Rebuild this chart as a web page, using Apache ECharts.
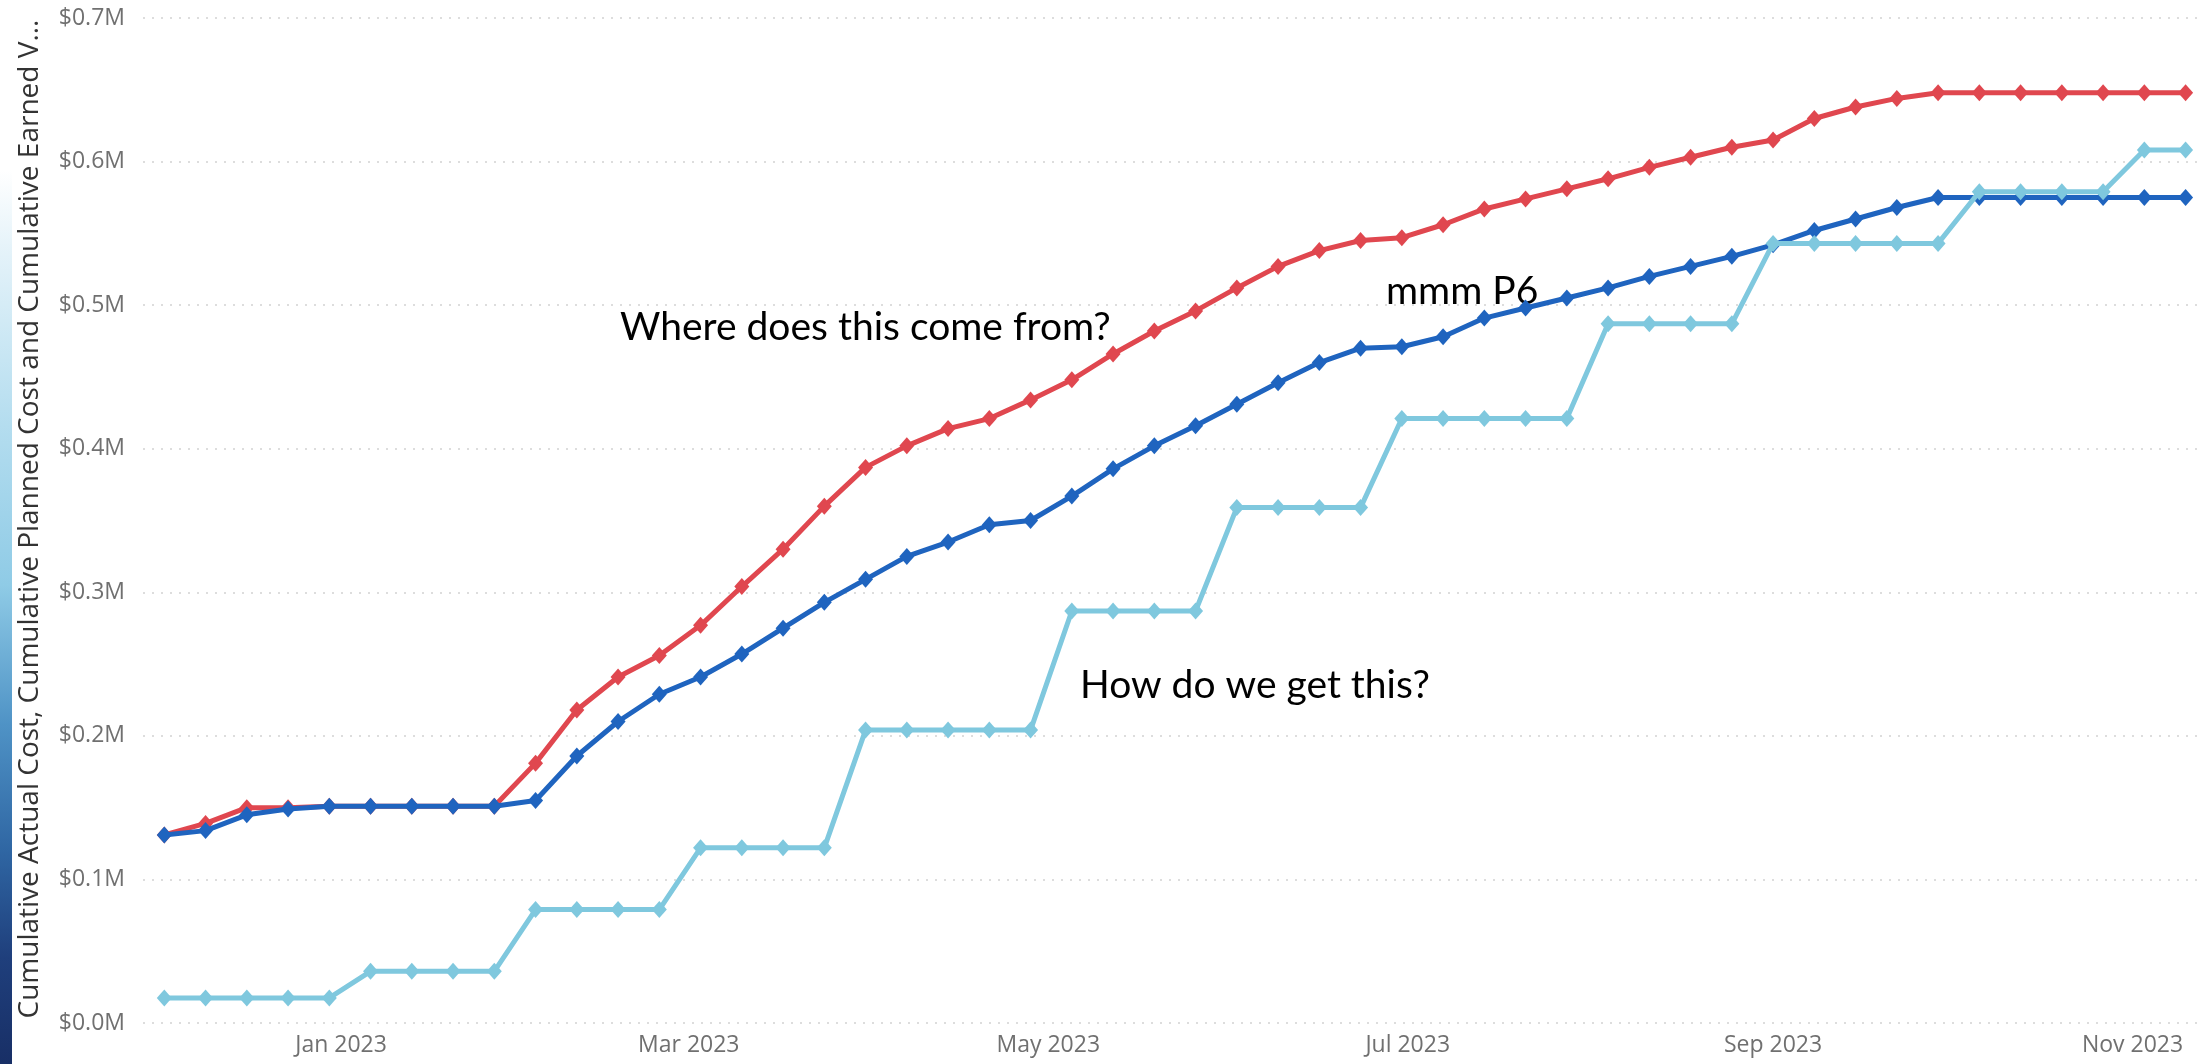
<!DOCTYPE html>
<html>
<head>
<meta charset="utf-8">
<script src="https://cdn.jsdelivr.net/npm/echarts@6/dist/echarts.min.js"></script>
<style>
  html, body { margin: 0; padding: 0; background: #ffffff; overflow: hidden; }
  #strip { position: absolute; left: 0; top: 0; width: 12px; height: 1064px;
    background: linear-gradient(to bottom, #ffffff 0%, #ffffff 16%, #e3f2f9 24%, #b4ddef 40%, #8fcbe6 55%, #4f93c6 68%, #2f66a3 80%, #1f3f7c 90%, #182f66 100%); }
  #chart { position: absolute; left: 0; top: 0; width: 2201px; height: 1064px; }
</style>
</head>
<body>
<div id="strip"></div>
<div id="chart"></div>
<script>
// Weekly reporting dates
const weekDates = [
  '2022-12-02','2022-12-09','2022-12-16','2022-12-23','2022-12-30',
  '2023-01-06','2023-01-13','2023-01-20','2023-01-27',
  '2023-02-03','2023-02-10','2023-02-17','2023-02-24',
  '2023-03-03','2023-03-10','2023-03-17','2023-03-24','2023-03-31',
  '2023-04-07','2023-04-14','2023-04-21','2023-04-28',
  '2023-05-05','2023-05-12','2023-05-19','2023-05-26',
  '2023-06-02','2023-06-09','2023-06-16','2023-06-23','2023-06-30',
  '2023-07-07','2023-07-14','2023-07-21','2023-07-28',
  '2023-08-04','2023-08-11','2023-08-18','2023-08-25',
  '2023-09-01','2023-09-08','2023-09-15','2023-09-22','2023-09-29',
  '2023-10-06','2023-10-13','2023-10-20','2023-10-27',
  '2023-11-03','2023-11-10'
];

// Values in $ millions
const actualCostM = [
  0.131,0.139,0.150,0.150,0.151,0.151,0.151,0.151,0.151,0.181,
  0.218,0.241,0.256,0.277,0.304,0.330,0.360,0.387,0.402,0.414,
  0.421,0.434,0.448,0.466,0.482,0.496,0.512,0.527,0.538,0.545,
  0.547,0.556,0.567,0.574,0.581,0.588,0.596,0.603,0.610,0.615,
  0.630,0.638,0.644,0.648,0.648,0.648,0.648,0.648,0.648,0.648
];
const plannedCostM = [
  0.131,0.134,0.145,0.149,0.151,0.151,0.151,0.151,0.151,0.155,
  0.186,0.210,0.229,0.241,0.257,0.275,0.293,0.309,0.325,0.335,
  0.347,0.350,0.367,0.386,0.402,0.416,0.431,0.446,0.460,0.470,
  0.471,0.478,0.491,0.498,0.505,0.512,0.520,0.527,0.534,0.542,
  0.552,0.560,0.568,0.575,0.575,0.575,0.575,0.575,0.575,0.575
];
const earnedValueM = [
  0.0175,0.0175,0.0175,0.0175,0.0175,
  0.036,0.036,0.036,0.036,
  0.079,0.079,0.079,0.079,
  0.122,0.122,0.122,0.122,
  0.204,0.204,0.204,0.204,0.204,
  0.287,0.287,0.287,0.287,
  0.359,0.359,0.359,0.359,
  0.421,0.421,0.421,0.421,0.421,
  0.487,0.487,0.487,0.487,
  0.543,0.543,0.543,0.543,0.543,
  0.579,0.579,0.579,0.579,
  0.608,0.608
];

const xTickDates = ['2023-01-01','2023-03-01','2023-05-01','2023-07-01','2023-09-01','2023-11-01'];
const xTickLabels = ['Jan 2023','Mar 2023','May 2023','Jul 2023','Sep 2023','Nov 2023'];
const yTickValuesM = [0, 0.1, 0.2, 0.3, 0.4, 0.5, 0.6, 0.7];

const seriesNames = ['Cumulative Actual Cost', 'Cumulative Planned Cost', 'Cumulative Earned Value'];
const yAxisTitle = 'Cumulative Actual Cost, Cumulative Planned Cost and Cumulative Earned V...';
const notes = ['Where does this come from?', 'mmm P6', 'How do we get this?'];

function parseLocal(s) {
  const p = s.split('-').map(Number);
  return new Date(p[0], p[1] - 1, p[2]).getTime();
}
const weekTimes = weekDates.map(parseLocal);
const xTickTimes = xTickDates.map(parseLocal);

const chart = echarts.init(document.getElementById('chart'), null, { renderer: 'canvas' });

function mk(name, vals, color, z) {
  return {
    name: name,
    type: 'line',
    data: weekTimes.map((t, i) => [t, vals[i]]),
    symbol: 'diamond',
    symbolSize: [15, 17],
    showSymbol: true,
    z: z,
    lineStyle: { color: color, width: 5 },
    itemStyle: { color: color },
    emphasis: { disabled: true },
    animation: false
  };
}

const option = {
  animation: false,
  backgroundColor: 'transparent',
  grid: { left: 143, right: 0, top: 18, bottom: 41, outerBoundsMode: 'none', containLabel: false },
  xAxis: {
    type: 'value',
    min: new Date(2022, 10, 28, 9, 15).getTime(),
    max: new Date(2023, 10, 12, 14, 45).getTime(),
    axisLine: { show: false },
    axisTick: { show: false },
    splitLine: { show: false },
    axisLabel: {
      customValues: xTickTimes,
      color: '#707070',
      fontFamily: 'Open Sans',
      fontSize: 23,
      margin: 11,
      formatter: function (v) {
        const idx = xTickTimes.indexOf(+v);
        return idx >= 0 ? xTickLabels[idx] : '';
      }
    }
  },
  yAxis: {
    type: 'value',
    min: 0,
    max: 0.7,
    interval: 0.1,
    axisLine: { show: false },
    axisTick: { show: false },
    splitLine: { show: true, lineStyle: { color: '#d2d2d2', width: 1.5, type: [2, 7] } },
    axisLabel: {
      color: '#707070',
      fontFamily: 'Open Sans',
      fontSize: 23,
      margin: 18,
      formatter: function (v) { return '$' + v.toFixed(1) + 'M'; }
    }
  },
  series: [
    mk(seriesNames[0], actualCostM, '#E0474F', 2),
    mk(seriesNames[1], plannedCostM, '#1F64BF', 3),
    mk(seriesNames[2], earnedValueM, '#7FC8DE', 4)
  ],
  graphic: [
    { type: 'text', x: 30, y: 519, rotation: Math.PI / 2, silent: true,
      style: { text: yAxisTitle, fill: '#333333', font: '28px "Open Sans"', align: 'center', verticalAlign: 'middle' } },
    { type: 'text', x: 620, y: 327, silent: true,
      style: { text: notes[0], fill: '#000000', font: '39px Lato', align: 'left', verticalAlign: 'middle' } },
    { type: 'text', x: 1386, y: 291, silent: true,
      style: { text: notes[1], fill: '#000000', font: '39px Lato', align: 'left', verticalAlign: 'middle' } },
    { type: 'text', x: 1080, y: 685, silent: true,
      style: { text: notes[2], fill: '#000000', font: '39px Lato', align: 'left', verticalAlign: 'middle' } }
  ]
};
chart.setOption(option);
</script>
</body>
</html>
